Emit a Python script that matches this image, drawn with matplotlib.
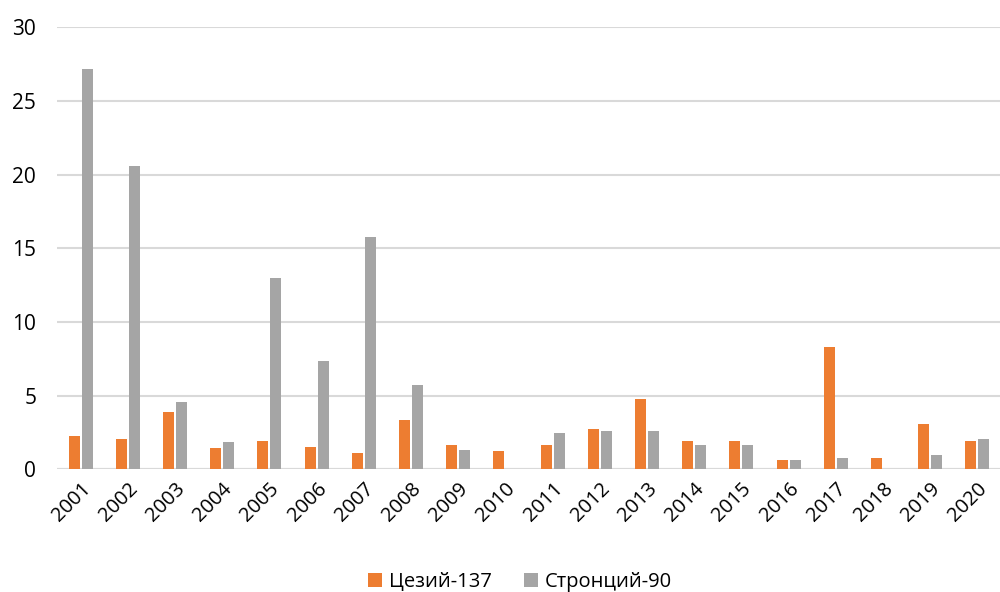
import matplotlib
matplotlib.use("Agg")
import matplotlib.pyplot as plt
import numpy as np

years = [str(y) for y in range(2001, 2021)]
cesium = [2.3, 2.1, 3.9, 1.45, 1.9, 1.5, 1.15, 3.35, 1.65, 1.25,
          1.65, 2.75, 4.8, 1.9, 1.9, 0.65, 8.3, 0.8, 3.05, 1.9]
strontium = [27.2, 20.6, 4.55, 1.85, 13.0, 7.35, 15.8, 5.75, 1.35, 0.0,
             2.45, 2.6, 2.6, 1.65, 1.65, 0.65, 0.8, 0.0, 0.95, 2.05]
series_names = ["Цезий-137", "Стронций-90"]
colors = ["#ED7D31", "#A5A5A5"]

plt.rcParams["font.family"] = ["Open Sans", "DejaVu Sans"]

fig = plt.figure(figsize=(10, 5.92), dpi=100)
ax = fig.add_axes([0.057, 0.207, 0.944, 0.747])

x = np.arange(len(years))
w = 0.235
gap = 0.02
ax.bar(x - w / 2 - gap, cesium, width=w, color=colors[0], label=series_names[0], zorder=3)
ax.bar(x + w / 2 + gap, strontium, width=w, color=colors[1], label=series_names[1], zorder=3)

ax.set_xlim(-0.5, len(years) - 0.5)
ax.set_ylim(0, 30)
ax.set_yticks(range(0, 31, 5))
ax.yaxis.grid(True, color="#D9D9D9", linewidth=1.5, zorder=0)
ax.set_axisbelow(True)
for s in ax.spines.values():
    s.set_visible(False)
ax.axhline(0, color="#D9D9D9", linewidth=1.5, zorder=2)

ax.set_xticks(x)
ax.set_xticklabels(years, rotation=45, ha="right", rotation_mode="anchor", fontsize=14.5)
ax.tick_params(axis="both", length=0, colors="black")
ax.tick_params(axis="x", pad=7)
ax.tick_params(axis="y", pad=15, labelsize=15)

fig.legend(loc="lower center", bbox_to_anchor=(0.52, -0.03), ncol=2, frameon=False,
           fontsize=14.5, handlelength=0.7, handleheight=0.7, handletextpad=0.35,
           columnspacing=1.6)

fig.savefig("out.png", dpi=100)
